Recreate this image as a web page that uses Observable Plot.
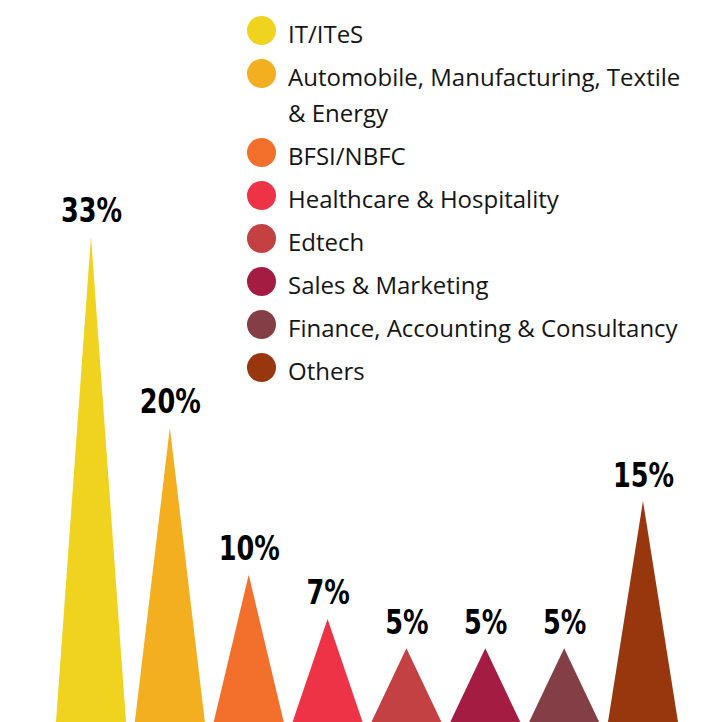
<!DOCTYPE html>
<html>
<head>
<meta charset="utf-8">
<script src="https://cdn.jsdelivr.net/npm/d3@7"></script>
<script src="https://cdn.jsdelivr.net/npm/@observablehq/plot@0.6"></script>
<style>
  html, body { margin: 0; padding: 0; background: #fff; }
  #wrap { position: relative; width: 712px; height: 722px; overflow: hidden; }
  #legend { position: absolute; left: 247px; top: 16px; font-family: "Open Sans", "Noto Sans", sans-serif; font-size: 24px; color: #151515; }
  .item { display: flex; align-items: flex-start; margin-bottom: 7.5px; }
  .dot { width: 29px; height: 29px; border-radius: 50%; flex: none; }
  .lab { margin-left: 12px; line-height: 35.5px; width: 405px; }
</style>
</head>
<body>
<div id="wrap"><div id="legend"></div></div>
<script>
const categories = [
  "IT/ITeS",
  "Automobile, Manufacturing, Textile & Energy",
  "BFSI/NBFC",
  "Healthcare & Hospitality",
  "Edtech",
  "Sales & Marketing",
  "Finance, Accounting & Consultancy",
  "Others"
];
const shares = [33, 20, 10, 7, 5, 5, 5, 15];
const labels = ["33%", "20%", "10%", "7%", "5%", "5%", "5%", "15%"];
const colors = ["#F0D31F", "#F3AF20", "#F36F2C", "#EE3347", "#C44143", "#A51C43", "#843E45", "#98360E"];

const halfBase = 0.444;
const spikes = categories.flatMap((c, i) => [
  {cat: c, i: i - halfBase, v: 0},
  {cat: c, i: i, v: shares[i]},
  {cat: c, i: i + halfBase, v: 0}
]);
const tops = categories.map((c, i) => ({cat: c, i, v: shares[i], label: labels[i]}));

const chart = Plot.plot({
  width: 712,
  height: 722,
  marginLeft: 91,
  marginRight: 69,
  marginTop: 236,
  marginBottom: 0,
  x: {domain: [0, categories.length - 1], axis: null},
  y: {domain: [0, 33], axis: null},
  color: {domain: categories, range: colors},
  marks: [
    Plot.areaY(spikes, {x: "i", y: "v", z: "cat", fill: "cat", curve: "linear"}),
    Plot.text(tops, {
      x: "i", y: "v", text: "label", dy: -15, lineAnchor: "bottom",
      fill: "#000", fontSize: 33, fontWeight: "bold",
      fontFamily: "'DejaVu Sans Condensed', 'DejaVu Sans', sans-serif"
    })
  ]
});
// narrow the bold labels to mimic a condensed display face
d3.select(chart).selectAll("g[aria-label='text'] text").each(function() {
  const t = this.getAttribute("transform") || "";
  this.setAttribute("transform", t + " scale(0.86,1)");
});
document.getElementById("wrap").prepend(chart);

const legend = document.getElementById("legend");
categories.forEach((c, i) => {
  const item = document.createElement("div");
  item.className = "item";
  const dot = document.createElement("div");
  dot.className = "dot";
  dot.style.background = colors[i];
  const lab = document.createElement("div");
  lab.className = "lab";
  lab.textContent = c;
  item.append(dot, lab);
  legend.append(item);
});
</script>
</body>
</html>
